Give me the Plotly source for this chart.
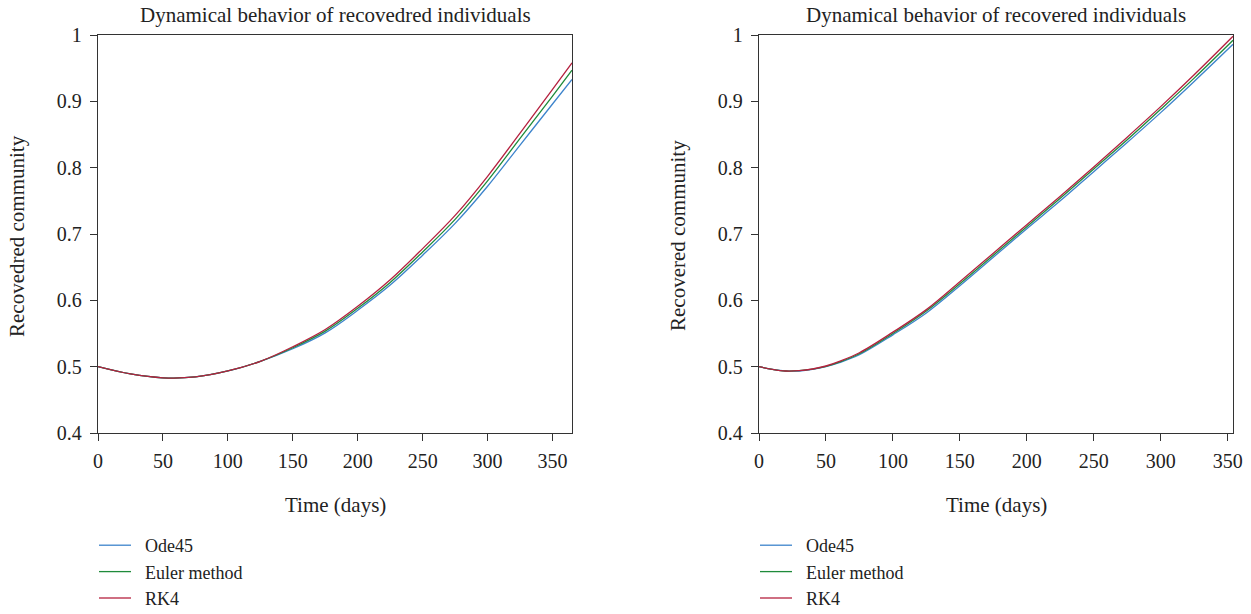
import plotly.graph_objects as go

# Time grids (days) for the two simulations
t_left = [0, 25, 50, 75, 100, 125, 150, 175, 200, 225, 250, 275, 300, 325, 350, 365]
t_right = [0, 10, 20, 30, 40, 50, 60, 75, 100, 125, 150, 175, 200, 225, 250, 275, 300, 325, 354]

# Recovered fraction, first model
rk4_left = [0.500, 0.489, 0.4832, 0.4845, 0.4935, 0.508, 0.530, 0.556, 0.591, 0.631,
            0.678, 0.728, 0.787, 0.852, 0.918, 0.958]
euler_left = [0.500, 0.489, 0.4832, 0.4845, 0.4935, 0.508, 0.5285, 0.5535, 0.588, 0.627,
              0.673, 0.722, 0.780, 0.844, 0.908, 0.947]
ode45_left = [0.500, 0.489, 0.4832, 0.4845, 0.4935, 0.508, 0.527, 0.551, 0.585, 0.623,
              0.668, 0.716, 0.772, 0.834, 0.896, 0.933]

# Recovered fraction, second model
rk4_right = [0.500, 0.496, 0.4935, 0.494, 0.4965, 0.501, 0.508, 0.521, 0.552, 0.586,
             0.628, 0.671, 0.714, 0.757, 0.801, 0.846, 0.892, 0.940, 0.998]
euler_right = [0.500, 0.496, 0.4935, 0.494, 0.4962, 0.5005, 0.507, 0.5195, 0.550, 0.584,
               0.625, 0.668, 0.711, 0.754, 0.798, 0.842, 0.888, 0.935, 0.992]
ode45_right = [0.500, 0.496, 0.4935, 0.4935, 0.4958, 0.500, 0.506, 0.518, 0.548, 0.581,
               0.622, 0.665, 0.708, 0.750, 0.794, 0.838, 0.883, 0.930, 0.986]

names = ["Ode45", "Euler method", "RK4"]
colors = ["#3D84CC", "#1F8B3B", "#B5213F"]

titles = ["Dynamical behavior of recovedred individuals",
          "Dynamical behavior of recovered individuals"]
ytitles = ["Recovedred community", "Recovered community"]

FONT = "Liberation Serif"
TXT = "#222222"
W, H = 1251, 614
NBSP = "\u00a0"

fig = go.Figure()

panels = [
    (t_left, [ode45_left, euler_left, rk4_left], "x", "y", "legend"),
    (t_right, [ode45_right, euler_right, rk4_right], "x2", "y2", "legend2"),
]
for t, series, xa, ya, lg in panels:
    for name, col, vals in zip(names, colors, series):
        fig.add_trace(go.Scatter(
            x=t, y=vals, mode="lines", name=NBSP * 2 + name,
            line=dict(color=col, width=1.3, shape="spline"),
            xaxis=xa, yaxis=ya, legend=lg,
        ))

# Plot-area positions in pixels
left_px = [(98, 572), (759, 1233)]
top_px, bottom_px = 35, 433
x_ranges = [[0, 365], [0, 354]]

axis_style = dict(
    showline=True, linecolor="#333333", linewidth=1.3, mirror=True,
    ticks="outside", ticklen=7, tickwidth=1.2, tickcolor="#333333",
    showgrid=False, zeroline=False, automargin=False,
    tickfont=dict(family=FONT, size=20, color=TXT),
)

for i, ((x0, x1), xr) in enumerate(zip(left_px, x_ranges)):
    sfx = "" if i == 0 else str(i + 1)
    fig.update_layout(**{
        f"xaxis{sfx}": dict(domain=[x0 / W, x1 / W], range=xr, tickmode="array",
                            tickvals=[0, 50, 100, 150, 200, 250, 300, 350],
                            anchor=f"y{sfx}", ticklabelstandoff=3, **axis_style),
        f"yaxis{sfx}": dict(domain=[1 - bottom_px / H, 1 - top_px / H], range=[0.4, 1.0],
                            tickmode="array", tickvals=[0.4, 0.5, 0.6, 0.7, 0.8, 0.9, 1.0],
                            ticktext=["0.4", "0.5", "0.6", "0.7", "0.8", "0.9", "1"],
                            anchor=f"x{sfx}", ticklabelstandoff=4, **axis_style),
    })

    cx = (x0 + x1) / 2 / W
    common = dict(xref="paper", yref="paper", showarrow=False,
                  xanchor="center", yanchor="middle")
    fig.add_annotation(text=titles[i], x=cx, y=1 - 15 / H,
                       font=dict(family=FONT, size=21, color=TXT), **common)
    fig.add_annotation(text="Time (days)", x=cx, y=1 - 505 / H,
                       font=dict(family=FONT, size=21, color=TXT), **common)
    fig.add_annotation(text=ytitles[i], x=(x0 - 81) / W, y=1 - 236 / H, textangle=-90,
                       font=dict(family=FONT, size=21, color=TXT), **common)

legend_style = dict(
    bgcolor="rgba(0,0,0,0)", borderwidth=0, yanchor="top", xanchor="left",
    font=dict(family=FONT, size=18, color=TXT), tracegroupgap=0, itemwidth=32,
)
fig.update_layout(
    legend=dict(x=94 / W, y=1 - 527 / H, **legend_style),
    legend2=dict(x=755 / W, y=1 - 527 / H, **legend_style),
    width=W, height=H, margin=dict(l=0, r=0, t=0, b=0, autoexpand=False),
    paper_bgcolor="white", plot_bgcolor="white",
)

fig.write_html("out.html")
